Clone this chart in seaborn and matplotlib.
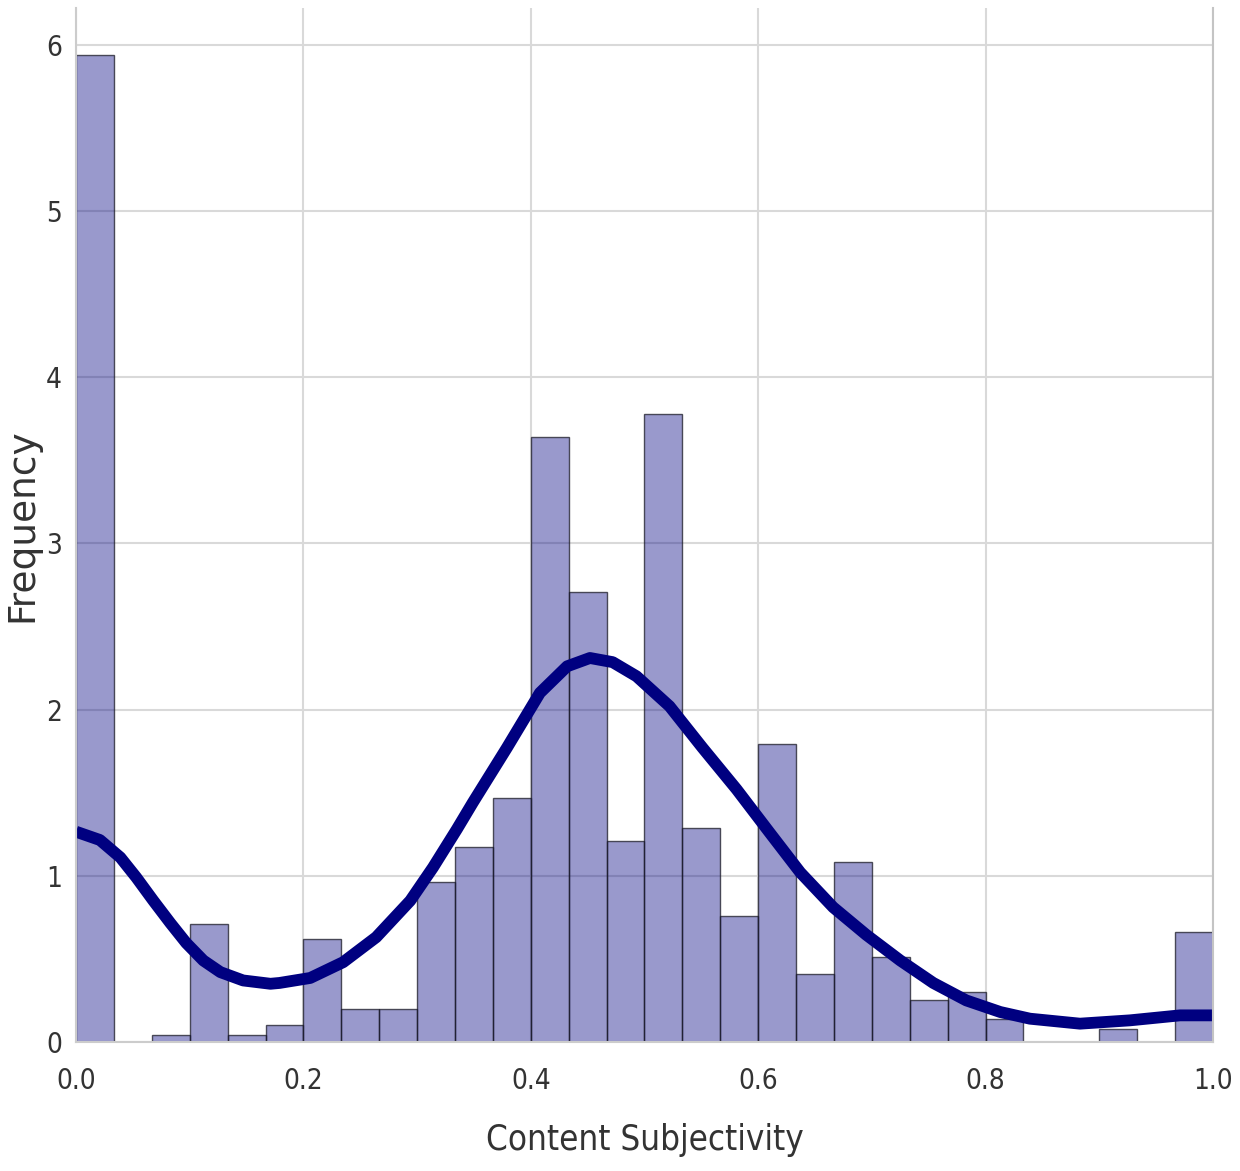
import matplotlib
matplotlib.use('Agg')
import matplotlib.pyplot as plt
import seaborn as sns
import pandas as pd

# histogram: 30 equal bins on [0, 1], heights read as density
bin_centers = [(i + 0.5) / 30 for i in range(30)]
bin_heights = [5.94, 0.0, 0.04, 0.71, 0.04, 0.10, 0.62, 0.20, 0.20, 0.96,
               1.17, 1.47, 3.64, 2.71, 1.21, 3.78, 1.29, 0.76, 1.79, 0.41,
               1.08, 0.51, 0.25, 0.30, 0.14, 0.0, 0.0, 0.08, 0.0, 0.66]

# density curve
kde_x = [0.000, 0.021, 0.039, 0.053, 0.068, 0.083, 0.097, 0.112, 0.127, 0.147,
         0.171, 0.179, 0.206, 0.235, 0.264, 0.294, 0.314, 0.335, 0.349, 0.379,
         0.408, 0.432, 0.452, 0.472, 0.493, 0.522, 0.551, 0.581, 0.610, 0.637,
         0.666, 0.695, 0.725, 0.754, 0.783, 0.813, 0.839, 0.883, 0.927, 0.971,
         1.000]
kde_y = [1.265, 1.215, 1.11, 0.99, 0.85, 0.715, 0.595, 0.49, 0.42, 0.37,
         0.35, 0.355, 0.385, 0.48, 0.63, 0.85, 1.05, 1.28, 1.44, 1.77,
         2.10, 2.26, 2.31, 2.285, 2.20, 2.02, 1.77, 1.52, 1.26, 1.02,
         0.81, 0.645, 0.49, 0.355, 0.25, 0.18, 0.14, 0.11, 0.13, 0.16,
         0.16]

x_ticks = [0.0, 0.2, 0.4, 0.6, 0.8, 1.0]
y_ticks = [0, 1, 2, 3, 4, 5, 6]

hist_df = pd.DataFrame({"subjectivity": bin_centers, "height": bin_heights})
kde_df = pd.DataFrame({"x": kde_x, "y": kde_y})

sns.set_style("whitegrid", {"grid.color": "#d9d9d9", "axes.edgecolor": "#cccccc"})
plt.rcParams['font.family'] = ['DejaVu Sans']

fig = plt.figure(figsize=(12.4, 11.71), dpi=100)
ax = fig.add_axes([0.0613, 0.1102, 0.9169, 0.8829])

sns.histplot(data=hist_df, x="subjectivity", weights="height", bins=30,
             binrange=(0, 1), stat="count", color="navy", alpha=0.4,
             edgecolor=(0.1, 0.1, 0.15, 0.75), linewidth=1.0, ax=ax)
sns.lineplot(data=kde_df, x="x", y="y", color="navy", linewidth=8.5,
             solid_capstyle="butt", solid_joinstyle="round", ax=ax)

ax.set_xlim(0, 1)
ax.set_ylim(0, 6.22)
ax.set_xticks(x_ticks)
ax.set_xticklabels([f"{t:.1f}" for t in x_ticks], fontsize=20,
                   fontstretch="condensed", color="#333333")
ax.set_yticks(y_ticks)
ax.set_yticklabels([str(t) for t in y_ticks], fontsize=20,
                   fontstretch="condensed", color="#333333")
ax.tick_params(axis="both", length=0)
ax.tick_params(axis="x", pad=18)
ax.tick_params(axis="y", pad=10)
ax.grid(True, linewidth=1.5)
ax.spines["top"].set_visible(False)
for s in ax.spines.values():
    s.set_linewidth(1.5)
    s.set_color("#cccccc")
ax.spines["right"].set_color("#c4c4c4")

ax.set_xlabel("Content Subjectivity", fontsize=25, fontstretch="condensed",
              color="#333333", labelpad=20)
ax.set_ylabel("Frequency", fontsize=27, color="#333333", labelpad=4)

fig.savefig("out.png", dpi=100)
